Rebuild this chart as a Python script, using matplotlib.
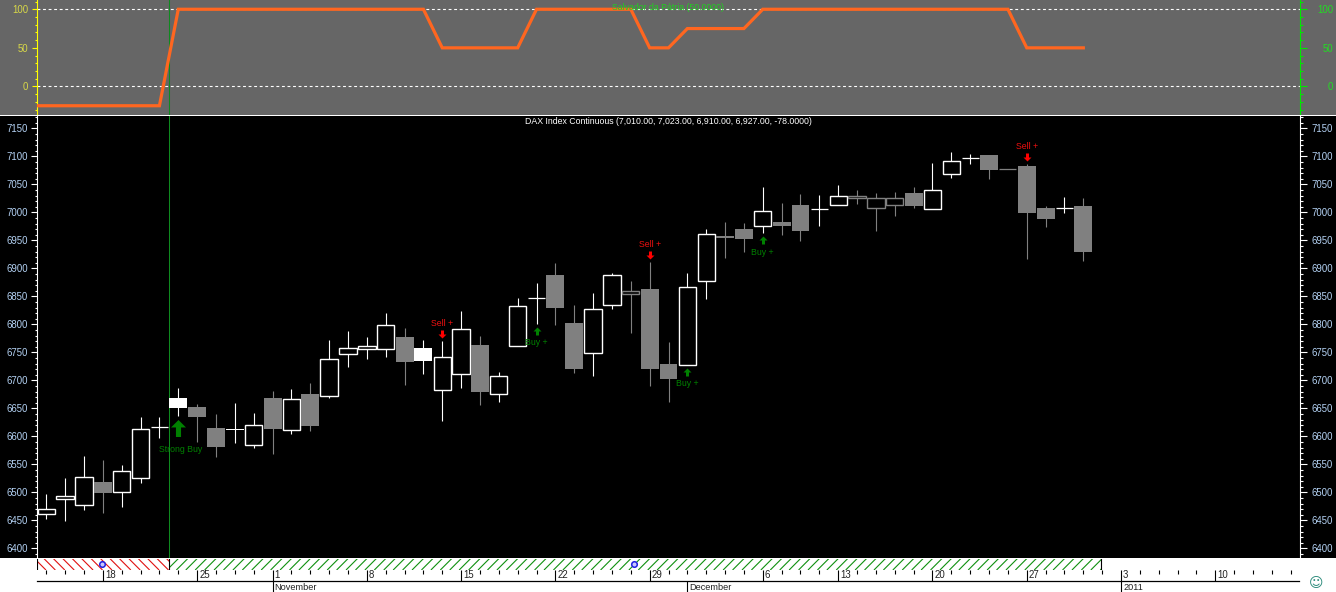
import matplotlib
matplotlib.use("Agg")
import matplotlib.pyplot as plt
import numpy as np
from matplotlib.collections import LineCollection
from matplotlib.patches import Rectangle
from matplotlib.path import Path
from matplotlib.ticker import FixedLocator, MultipleLocator, NullFormatter
from matplotlib.transforms import Affine2D

W, H = 1336, 592
plt.rcParams['font.family'] = ['Liberation Sans', 'DejaVu Sans']

# ---- data
opens = [6461, 6487.5, 6477, 6518, 6501, 6526, 6616, 6651, 6652, 6615, 6612, 6585, 6668, 6612, 6676, 6673,
         6746.5, 6755.5, 6755.5, 6777.5, 6735, 6682, 6711, 6763, 6676, 6762, 6846.5, 6888, 6802.5, 6748.5, 6835, 6854,
         6863, 6729, 6728, 6878, 6958, 6970, 6976, 6983.5, 7013, 7005.5, 7014, 7025, 7008.5, 7014, 7034.6, 7006.7,
         7068, 7096.5, 7102.5, 7077, 7083, 7008, 7007, 7011.5]
closes = [6470, 6493, 6527, 6499, 6539, 6614, 6616, 6668, 6634.5, 6581, 6614, 6621, 6613, 6666, 6618, 6738,
          6758.5, 6762, 6798, 6733, 6758, 6741, 6791, 6679, 6707, 6832, 6846.5, 6830, 6720.5, 6827, 6888, 6859,
          6720, 6702.5, 6866, 6961, 6954, 6952.5, 7002, 6975.7, 6967, 7005.5, 7029, 7029, 7025.6, 7025.6, 7011, 7039.4,
          7091, 7096.5, 7076, 7077, 6999, 6988, 7007, 6929]
highs = [6497, 6526, 6565, 6558, 6549, 6634, 6634, 6686, 6658, 6640, 6659.5, 6642, 6681, 6684.5, 6695, 6772,
         6788, 6777, 6820, 6793.5, 6772, 6770, 6824, 6779, 6715, 6847, 6874, 6910, 6835, 6856, 6892, 6877.5,
         6911, 6768, 6892, 6970, 6983, 6981, 7045, 7017, 7033, 7031, 7049, 7040, 7035, 7036.5, 7045, 7088,
         7108, 7104, 7102.5, 7077, 7086, 7011.5, 7027, 7025.7]
lows = [6453, 6449, 6468, 6464, 6474, 6517, 6597, 6636, 6590, 6563, 6588, 6579, 6568, 6604, 6609.5, 6669,
        6723, 6739, 6742, 6692, 6712, 6628, 6687, 6656.5, 6662, 6762, 6801, 6799.5, 6714, 6707, 6827.5, 6785,
        6690, 6662, 6728, 6845, 6918.5, 6929, 6963, 6960, 6949, 6975.7, 7014, 7014.5, 6967, 6993.5, 7007.5, 7006.7,
        7061, 7086, 7060, 7077, 6916.8, 6974, 6999, 6913]
# w hollow white, g filled grey, W filled white, h hollow grey
kinds = ['w', 'w', 'w', 'g', 'w', 'w', 'w', 'W', 'g', 'g', 'W', 'w', 'g', 'w', 'g', 'w',
         'w', 'w', 'w', 'g', 'W', 'w', 'w', 'g', 'w', 'w', 'w', 'g', 'g', 'w', 'w', 'h',
         'g', 'g', 'w', 'w', 'g', 'g', 'w', 'g', 'g', 'w', 'w', 'h', 'h', 'h', 'g', 'w',
         'w', 'w', 'g', 'g', 'g', 'g', 'w', 'g']

osc_values = [-25] * 8 + [100] * 14 + [50] * 5 + [100] * 6 + [50] * 2 + [75] * 4 + [100] * 14 + [50] * 4
osc_index = list(range(-1, 56))

y_ticks_main = list(range(6400, 7151, 50))
y_ticks_osc = [0, 50, 100]

day_ticks = [3, 8, 12, 17, 22, 27, 32, 38, 42, 47, 52, 57, 62]
day_labels = ['18', '25', '1', '8', '15', '22', '29', '6', '13', '20', '27', '3', '10']
month_ticks = [12, 34, 57]
month_labels = ['November', 'December', '2011']
event_ticks = [2.93, 31.17]

buy_signals = [(7, 'Strong Buy'), (26, 'Buy +'), (34, 'Buy +'), (38, 'Buy +')]
sell_signals = [(21, 'Sell +'), (32, 'Sell +'), (52, 'Sell +')]
cursor_index = 6.507
hatch_end_index = 56 - 0.07

# ---- layout
X0, STEP = 46.3, 18.855
AX_L, AX_R = 36.5, 1299.5
xlim = ((AX_L - X0) / STEP, (AX_R - X0) / STEP)
DIGIT_FS = 6.9
TEXT_FS = 6.3
BLUE = '#b4d2f4'
GREEN_DK = '#008000'


def box(top, bottom):
    return [AX_L / W, 1 - bottom / H, (AX_R - AX_L) / W, (bottom - top) / H]


fig = plt.figure(figsize=(W / 100, H / 100), dpi=100, facecolor='white')
fig.add_artist(Rectangle((0, 1 - 115 / H), 1, 115 / H, transform=fig.transFigure, fc='#666666', ec='none', zorder=-2))
fig.add_artist(Rectangle((0, 1 - 558 / H), 1, 443 / H, transform=fig.transFigure, fc='black', ec='none', zorder=-2))
fig.add_artist(Rectangle((0, 1 - 116 / H), 1, 1.4 / H, transform=fig.transFigure, fc='white', ec='none', zorder=5))

# ---- oscillator panel
ax_o = fig.add_axes(box(0, 115), facecolor='#666666')
ax_o.set_xlim(xlim)
ax_o.set_ylim(-37, 112)
ax_o.plot(osc_index, osc_values, color='#ff6620', lw=2.3, solid_joinstyle='miter', zorder=3)
for v in (0, 100):
    ax_o.axhline(v, color='white', lw=0.8, dashes=(2.6, 2.4), zorder=2)
ax_o.axvline(cursor_index, color='#0f8a1f', lw=0.75, zorder=2)
ax_o.text(0.5, 0.938, 'Salvador da Pátria (50.0000)', transform=ax_o.transAxes, ha='center', va='center',
          color='#20d020', fontsize=TEXT_FS, zorder=6)
ax_o.set_xticks([])

ax_m = fig.add_axes(box(116, 558), facecolor='black')
ax_m.set_xlim(xlim)
ax_m.set_ylim(6382.9, 7172)
ax_m.set_xticks([])
ax_m.axvline(cursor_index, color='#0f8a1f', lw=0.75, zorder=1)


def style_y(ax, major, side_color, label_color, lmaj, lmin, minor=10):
    ax.yaxis.set_major_locator(FixedLocator(major))
    ax.yaxis.set_minor_locator(MultipleLocator(minor))
    ax.yaxis.set_minor_formatter(NullFormatter())
    ax.tick_params(axis='y', which='major', length=lmaj, width=0.8, color=side_color, labelcolor=label_color,
                   labelsize=DIGIT_FS)
    ax.tick_params(axis='y', which='minor', length=lmin, width=0.8, color=side_color)
    for s in ax.spines.values():
        s.set_visible(False)


def finish(ax, right, side_color):
    name = 'right' if right else 'left'
    ax.spines[name].set_visible(True)
    ax.spines[name].set_color(side_color)
    ax.spines[name].set_linewidth(0.8)


style_y(ax_o, y_ticks_osc, '#ffff00', '#d8d848', 3.6, 1.6)
finish(ax_o, False, '#ffff00')
style_y(ax_m, y_ticks_main, 'white', BLUE, 4.3, 1.6)
finish(ax_m, False, 'white')
for ax in (ax_o, ax_m):
    ax.tick_params(axis='y', which='major', pad=(36.5 - 28) * 0.72 - ax.yaxis.get_major_ticks()[0].tick1line.get_markersize() + 0.0)

tw_o = ax_o.twinx()
tw_o.set_ylim(ax_o.get_ylim())
style_y(tw_o, y_ticks_osc, '#00e800', '#22dd22', 5, 1.8)
finish(tw_o, True, '#00e800')
tw_m = ax_m.twinx()
tw_m.set_ylim(ax_m.get_ylim())
style_y(tw_m, y_ticks_main, 'white', BLUE, 5, 2)
finish(tw_m, True, 'white')
for ax in (tw_o, tw_m):
    ax.tick_params(axis='y', which='major', pad=(1333 - 1299.5) * 0.72 - 5)
    for t in ax.yaxis.get_major_ticks():
        t.label2.set_horizontalalignment('right')

# ---- candles
GREY = '#808080'
for i, (o, c, hi, lo, k) in enumerate(zip(opens, closes, highs, lows, kinds)):
    wick = 'white' if k in 'wW' else GREY
    ax_m.vlines(i, lo, hi, color=wick, lw=0.8, zorder=3)
    face = {'w': 'black', 'W': 'white', 'g': GREY, 'h': 'black'}[k]
    flat = abs(c - o) < 0.01
    if flat:
        ax_m.hlines(o, i - 0.45, i + 0.45, color=wick, lw=0.9, zorder=4)
    elif k == 'g' or k == 'W':
        ax_m.bar(i, c - o, bottom=o, width=0.95, color=face, edgecolor='none', zorder=4)
    else:
        ax_m.bar(i, c - o, bottom=o, width=0.92, facecolor=face, edgecolor=wick, linewidth=1.0, zorder=4)


# ---- trading signals
def arrow_path(w, t, hl, up):
    s = 1 if up else -1
    verts = [(0, s), (w, s * (1 - hl)), (t, s * (1 - hl)), (t, -s), (-t, -s), (-t, s * (1 - hl)), (-w, s * (1 - hl)), (0, s)]
    return Path(verts, closed=True)


def signal(i, label, buy):
    col = GREEN_DK if buy else '#ff0000'
    tcol = GREEN_DK if buy else '#f01010'
    strong = label.startswith('Strong')
    anchor = lows[i] if buy else highs[i]
    sgn = -1 if buy else 1
    length = 17 if strong else 8
    gap = 3
    centre = ax_m.transData + Affine2D().translate(0, sgn * (gap + length / 2))
    marker = arrow_path(0.88, 0.3, 0.88, True) if strong else arrow_path(1.0, 0.375, 1.0, buy)
    ax_m.plot([i], [anchor], marker=marker, ms=length * 0.72, color=col, mew=0, ls='none', transform=centre, zorder=6)
    off = gap + length + (13 if strong else 8 if buy else 7)
    ax_m.annotate(label, xy=(i, anchor), xytext=(2 if strong else 0, sgn * off), textcoords='offset pixels',
                  ha='center', va='center', color=tcol, fontsize=TEXT_FS, zorder=6)


for i, label in buy_signals:
    signal(i, label, True)
for i, label in sell_signals:
    signal(i, label, False)

ax_m.text(0.5, 0.9885, 'DAX Index Continuous (7,010.00, 7,023.00, 6,910.00, 6,927.00, -78.0000)',
          transform=ax_m.transAxes, ha='center', va='center', color='white', fontsize=TEXT_FS, zorder=6)

# ---- hatched strip
ax_h = fig.add_axes(box(558.5, 570), facecolor='white')
ax_h.set_xlim(xlim)
ax_h.set_ylim(0, 1)
ax_h.axis('off')
slant = 11.5 / STEP


def hatch(x_from, x_to, color, rising):
    clip = Rectangle((x_from, 0), x_to - x_from, 1, transform=ax_h.transData)
    starts = np.arange(x_from - slant, x_to + 0.5, 0.5)
    if rising:
        segs = [[(s, 0), (s + slant, 1)] for s in starts]
    else:
        segs = [[(s, 1), (s + slant, 0)] for s in starts]
    lc = LineCollection(segs, colors=color, linewidths=0.8)
    ax_h.add_collection(lc)
    lc.set_clip_path(clip)


hatch(xlim[0], cursor_index, '#e01010', False)
hatch(cursor_index, hatch_end_index, '#109010', True)
for xv in (xlim[0] + 0.01, cursor_index, hatch_end_index):
    ax_h.axvline(xv, color='black', lw=0.8)
ax_h.plot(event_ticks, [0.55] * len(event_ticks), 'o', ms=4.0, mfc='#c8c8ff', mec='#2020e0', mew=1.1, zorder=5,
          clip_on=False)

# ---- date rows
ax_y = fig.add_axes(box(581, 592), facecolor='white')
ax_y.set_xlim(xlim)
ax_y.set_yticks([])
for s in ax_y.spines.values():
    s.set_visible(False)
ax_y.set_xticks(month_ticks)
ax_y.set_xticklabels([])
ax_y.tick_params(axis='x', which='major', direction='in', length=7.9, width=0.8, bottom=False, top=True)
for t, lab in zip(month_ticks, month_labels):
    ax_y.annotate(lab, xy=(t, 0.42), xycoords=ax_y.get_xaxis_transform(), xytext=(2, 0), textcoords='offset pixels',
                  ha='left', va='center', color='#202020', fontsize=TEXT_FS + 0.3)

ax_d = fig.add_axes(box(570, 581), facecolor='white')
ax_d.set_xlim(xlim)
ax_d.set_yticks([])
for n, s in ax_d.spines.items():
    s.set_visible(n == 'bottom')
ax_d.spines['bottom'].set_linewidth(0.9)
ax_d.spines['bottom'].set_color('black')
ax_d.set_xticks(day_ticks)
ax_d.set_xticklabels([])
ax_d.set_xticks([t for t in range(0, 67) if t not in day_ticks], minor=True)
ax_d.tick_params(axis='x', which='major', direction='in', length=7.9, width=0.8, bottom=True, top=False)
ax_d.tick_params(axis='x', which='minor', direction='in', length=2.9, width=0.8, bottom=False, top=True)
for t, lab in zip(day_ticks, day_labels):
    ax_d.annotate(lab, xy=(t, 0.5), xycoords=ax_d.get_xaxis_transform(), xytext=(2, 0), textcoords='offset pixels',
                  ha='left', va='center', color='#202020', fontsize=DIGIT_FS)

fig.text(1316 / W, 1 - 583 / H, '\u263a', family='DejaVu Sans', fontsize=10, color='#2a8a7a', ha='center', va='center')

fig.savefig('out.png', dpi=100)
